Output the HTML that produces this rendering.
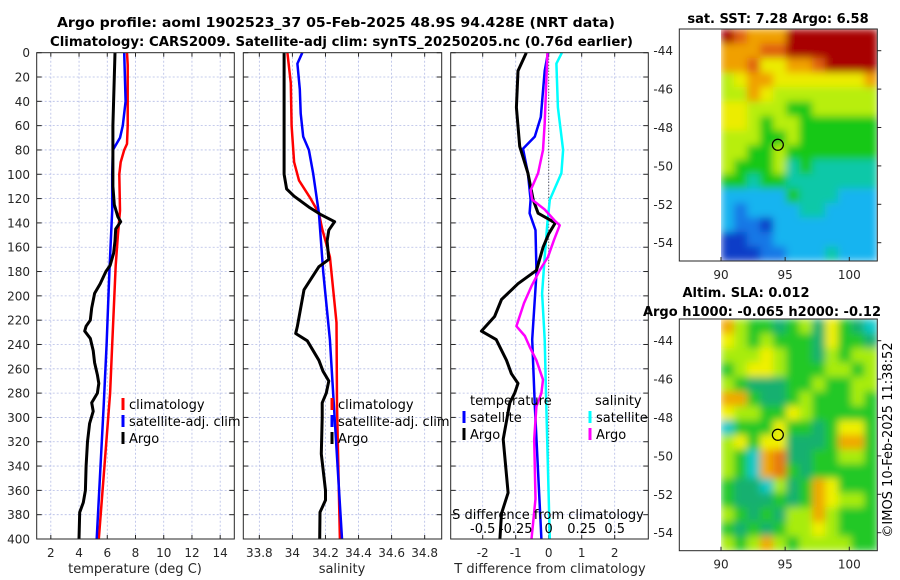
<!DOCTYPE html>
<html><head><meta charset="utf-8"><style>
html,body{margin:0;padding:0;background:#fff;}
svg{display:block;font-family:"DejaVu Sans","Liberation Sans",sans-serif;}
</style></head><body>
<svg id="fig" width="900" height="580" viewBox="0 0 900 580" xmlns="http://www.w3.org/2000/svg">
<defs>
<filter id="smooth" x="0" y="0" width="1" height="1"><feGaussianBlur stdDeviation="4" edgeMode="duplicate"/></filter>
<clipPath id="clipTop"><rect x="721" y="29" width="156.3" height="232"/></clipPath>
<clipPath id="clipBot"><rect x="721" y="319" width="156.3" height="231.7"/></clipPath>
</defs>
<text x="336" y="27" font-size="13" font-weight="bold" text-anchor="middle" textLength="558" lengthAdjust="spacingAndGlyphs" fill="#000">Argo profile: aoml 1902523_37 05-Feb-2025 48.9S 94.428E (NRT data)</text>
<text x="341.5" y="46" font-size="13" font-weight="bold" text-anchor="middle" textLength="583" lengthAdjust="spacingAndGlyphs" fill="#000">Climatology: CARS2009. Satellite-adj clim: synTS_20250205.nc (0.76d earlier)</text>
<g id="panels"></g>
<g id="maps"></g>
</svg>
<script>
// ---------------- data ----------------
const depthLevels = [0,20,40,60,80,100,120,140,160,180,200,220,240,260,280,300,320,340,360,380,400];
// Panel 1 temperature
const argoTDepth = [0,20,40,60,80,100,110,125,135,139,145,155,165,175,180,190,198,210,220,225,229,235,245,255,265,272,280,288,295,305,320,340,360,370,378,400];
const argoT = [6.55,6.5,6.45,6.4,6.4,6.4,6.4,6.5,6.75,6.95,6.6,6.55,6.45,6.2,5.9,5.5,5.1,4.9,4.8,4.5,4.4,4.8,5.0,5.1,5.3,5.4,5.3,4.9,5.0,4.75,4.6,4.5,4.45,4.3,4.05,4.0];
const climTDepth = [0,10,40,60,75,80,90,100,130,150,175,240,280,400];
const climT = [7.4,7.45,7.45,7.45,7.4,7.2,6.95,6.85,6.9,6.75,6.6,6.35,6.2,5.4];
const satTDepth = [0,40,60,70,80,100,130,180,240,290,400];
const satT = [7.2,7.3,7.1,6.9,6.4,6.35,6.35,6.15,5.95,5.75,5.25];
// Panel 2 salinity
const argoSDepth = [0,100,112,118,127,133,139,146,155,170,176,195,210,225,231,237,253,262,270,280,288,300,330,360,368,378,400];
const argoS = [33.95,33.95,33.965,34.01,34.1,34.17,34.255,34.22,34.21,34.22,34.16,34.07,34.05,34.03,34.02,34.09,34.16,34.185,34.22,34.205,34.18,34.18,34.175,34.2,34.2,34.167,34.165];
const climSDepth = [0,25,60,90,105,120,132,145,168,222,290,400];
const climS = [33.97,33.99,33.995,34.01,34.04,34.11,34.16,34.18,34.227,34.267,34.27,34.287];
const satSDepth = [0,9,30,50,69,80,99,132,181,236,400];
const satS = [34.06,34.03,34.045,34.05,34.065,34.1,34.125,34.16,34.187,34.227,34.3];
// Panel 3 differences
const dArgoTDepth = [0,15,45,77,99,121,132,140,149,160,179,190,203,217,229,236,253,264,272,280,288,318,362,379,400];
const dArgoT = [-0.68,-0.93,-0.98,-0.88,-0.63,-0.47,-0.32,0.2,0.0,-0.17,-0.37,-0.93,-1.43,-1.64,-2.04,-1.59,-1.28,-1.13,-0.93,-1.03,-1.18,-1.38,-1.23,-1.43,-1.48];
const dSatTDepth = [0,15,53,69,79,99,121,132,146,181,236,290,400];
const dSatT = [-0.02,-0.12,-0.24,-0.42,-0.78,-0.63,-0.55,-0.58,-0.40,-0.37,-0.5,-0.42,-0.22];
const dSatSDepth = [0,9,45,80,99,121,140,168,198,236,290,400];
const dSatS = [0.10,0.058,0.07,0.109,0.096,0.008,-0.01,-0.03,-0.05,-0.03,-0.018,0.008];
const dArgoSDepth = [0,58,80,99,113,121,129,138,142,154,168,179,192,206,225,233,242,253,269,280,291,318,367,400];
const dArgoS = [-0.01,-0.03,-0.043,-0.08,-0.136,-0.125,-0.03,0.045,0.083,0.04,-0.005,-0.068,-0.13,-0.187,-0.245,-0.18,-0.144,-0.093,-0.043,-0.055,-0.093,-0.11,-0.1,-0.13];
// tick labels
const tempTicks = [2,4,6,8,10,12,14];
const salTicks = [33.8,34,34.2,34.4,34.6,34.8];
const salTickLabels = ["33.8","34","34.2","34.4","34.6","34.8"];
const dTTicks = [-2,-1,0,1,2];
const dSTicks = [-0.5,-0.25,0,0.25,0.5];
const dSTickLabels = ["-0.5","-0.25","0","0.25","0.5"];
const lonTicks = [90,95,100];
const latTicks = [-44,-46,-48,-50,-52,-54];
// maps (colour class per cell, rows north->south)
const sstGrid = ["987779999999","777889999999","778667789999","567766666667","557655555555","665554455555","665455444444","555445444444","554454444444","544453433333","443443333333","222224333222","212222332222","211022222222","001122222222","000112223222"];
const slaGrid = ["532212314210","432322214221","333432213233","234432223323","321112232233","552112322232","433224322222","022242212442","342441112552","320561122332","320562122222","211031254222","211121254332","321213353222","212123343222","323532333322"];
const argoLon = 94.43, argoLat = -48.9;

// ---------------- helpers ----------------
const NS = "http://www.w3.org/2000/svg";
function mk(tag, attrs, parent){ const e=document.createElementNS(NS,tag); for(const k in attrs) e.setAttribute(k,attrs[k]); parent.appendChild(e); return e; }
const Y0=52.7, Y1=539;
function yD(d){ return Y0 + d*(Y1-Y0)/400; }
function lin(d0,d1,r0,r1){ return v => r0 + (v-d0)*(r1-r0)/(d1-d0); }
const panelsG = document.getElementById('panels');
const mapsG = document.getElementById('maps');

function drawPanel(name, x0, x1, xs, ticks, labels){
  const g = mk('g',{},panelsG);
  
  
  mk('rect',{x:x0,y:Y0,width:x1-x0,height:Y1-Y0,fill:'#fff'},g);
  ticks.forEach((t,i)=>{
    const x = xs(t);
    const gl = mk('line',{x1:x,x2:x,y1:Y0,y2:Y1,stroke:'#b4bce6','stroke-width':0.8,'stroke-dasharray':'2,2'},g);
    
    
    mk('line',{x1:x,x2:x,y1:Y1,y2:Y1-4,stroke:'#262626','stroke-width':1},g);
    mk('line',{x1:x,x2:x,y1:Y0,y2:Y0+4,stroke:'#262626','stroke-width':1},g);
    const tl = mk('text',{x:x,y:557,'font-size':12,'text-anchor':'middle',fill:'#262626'},g);
    tl.textContent = labels[i];
    
    
  });
  depthLevels.forEach(d=>{
    const y = yD(d);
    if(d>0 && d<400){
      const gl = mk('line',{x1:x0,x2:x1,y1:y,y2:y,stroke:'#b4bce6','stroke-width':0.8,'stroke-dasharray':'2,2'},g);
      
      
    }
    mk('line',{x1:x0,x2:x0+5,y1:y,y2:y,stroke:'#262626','stroke-width':1},g);
    mk('line',{x1:x1,x2:x1-5,y1:y,y2:y,stroke:'#262626','stroke-width':1},g);
  });
  return g;
}
function drawLine(g, name, xs, depths, vals, color, w){
  const pts = depths.map((d,i)=> xs(vals[i]).toFixed(1)+','+yD(d).toFixed(1)).join(' ');
  const pl = mk('polyline',{points:pts,fill:'none',stroke:color,'stroke-width':w,'stroke-linejoin':'round'},g);
  
  
}
function frame(g,x0,x1){ mk('rect',{x:x0,y:Y0,width:x1-x0,height:Y1-Y0,fill:'none',stroke:'#262626','stroke-width':1},g); }
function legendItem(g, name, x, y, color, label){
  const it = mk('g',{},g);
  
  
  mk('rect',{x:x-1.5,y:y-11,width:3,height:12,fill:color},it);
  const t = mk('text',{x:x+6,y:y,'font-size':13,fill:'#000'},it);
  t.textContent = label;
}
function axisTitle(g,name,x,label){
  const t = mk('text',{x:x,y:573,'font-size':13,'text-anchor':'middle',fill:'#262626'},g);
  t.textContent = label;
  
  
}

// ---------------- panel 1 ----------------
const xT = lin(1,15,36.7,234.3);
const p1 = drawPanel('temperature-panel',36.7,234.3,xT,tempTicks,tempTicks.map(String));
depthLevels.forEach(d=>{
  const t = mk('text',{x:30,y:yD(d)+4.5,'font-size':12,'text-anchor':'end',fill:'#262626'},p1);
  t.textContent = String(d);
  
  
});
drawLine(p1,'climatology-temperature-line',xT,climTDepth,climT,'#ff0000',2.5);
drawLine(p1,'satellite-temperature-line',xT,satTDepth,satT,'#0000ff',2.5);
drawLine(p1,'argo-temperature-line',xT,argoTDepth,argoT,'#000',3);
frame(p1,36.7,234.3);
axisTitle(p1,'temperature-axis-title',135,'temperature (deg C)');
legendItem(p1,'legend-climatology',123,409,'#ff0000','climatology');
legendItem(p1,'legend-satellite-adj-clim',123,426,'#0000ff','satellite-adj. clim');
legendItem(p1,'legend-argo',123,443,'#000','Argo');

// ---------------- panel 2 ----------------
const xS = lin(33.703,34.903,243.3,441.7);
const p2 = drawPanel('salinity-panel',243.3,441.7,xS,salTicks,salTickLabels);
drawLine(p2,'climatology-salinity-line',xS,climSDepth,climS,'#ff0000',2.5);
drawLine(p2,'satellite-salinity-line',xS,satSDepth,satS,'#0000ff',2.5);
drawLine(p2,'argo-salinity-line',xS,argoSDepth,argoS,'#000',3);
frame(p2,243.3,441.7);
axisTitle(p2,'salinity-axis-title',342,'salinity');
legendItem(p2,'legend-climatology-2',332,409,'#ff0000','climatology');
legendItem(p2,'legend-satellite-adj-clim-2',332,426,'#0000ff','satellite-adj. clim');
legendItem(p2,'legend-argo-2',332,443,'#000','Argo');

// ---------------- panel 3 ----------------
const xD = lin(0,1,548.7,581.7);
const xDS = v => xD(v*4);
const p3 = drawPanel('difference-panel',450.7,648.3,xD,dTTicks,dTTicks.map(String));
mk('line',{x1:xD(0),x2:xD(0),y1:Y0,y2:Y1,stroke:'#333','stroke-width':1,'stroke-dasharray':'1,2'},p3);
drawLine(p3,'satellite-salinity-diff-line',xDS,dSatSDepth,dSatS,'#00ffff',2.5);
drawLine(p3,'satellite-temperature-diff-line',xD,dSatTDepth,dSatT,'#0000ff',2.5);
drawLine(p3,'argo-temperature-diff-line',xD,dArgoTDepth,dArgoT,'#000',3);
drawLine(p3,'argo-salinity-diff-line',xDS,dArgoSDepth,dArgoS,'#ff00ff',2.5);
frame(p3,450.7,648.3);
axisTitle(p3,'t-difference-axis-title',550,'T difference from climatology');
{
  const t = mk('text',{x:470,y:405,'font-size':13,fill:'#000'},p3); t.textContent='temperature';
  
  
  const s = mk('text',{x:595,y:405,'font-size':13,fill:'#000'},p3); s.textContent='salinity';
  
  
}
legendItem(p3,'legend-temp-satellite',464,422,'#0000ff','satellite');
legendItem(p3,'legend-temp-argo',464,439,'#000','Argo');
legendItem(p3,'legend-sal-satellite',590,422,'#00ffff','satellite');
legendItem(p3,'legend-sal-argo',590,439,'#ff00ff','Argo');
{
  const t = mk('text',{x:548,y:519,'font-size':13,'text-anchor':'middle',fill:'#000'},p3);
  t.textContent='S difference from climatology';
  
  
  dSTicks.forEach((v,i)=>{
    const l = mk('text',{x:xDS(v),y:533,'font-size':13,'text-anchor':'middle',fill:'#000'},p3);
    l.textContent = dSTickLabels[i];
    
    
  });
}

// ---------------- maps ----------------
const sstColors = ['#0a3cc8','#1478e6','#18b4f0','#10c8a8','#18c818','#b8ee10','#ecec00','#f0a000','#e06010','#a80000'];
const slaColors = ['#10c8c8','#18b070','#20c828','#a8ec10','#f0f000','#f0a800','#e87810'];
function drawMap(name, grid, colors, top, bottom, latTop, latBottom, clipId, title1, title2){
  const g = mk('g',{},mapsG);
  
  
  const L=679.3, R=877.3;
  const lonX = lin(90,100,721,849.3);
  const latY = lin(-44,-54,latTop,latBottom);
  mk('rect',{x:L,y:top,width:R-L,height:bottom-top,fill:'#fff'},g);
  const clipG = mk('g',{'clip-path':'url(#'+clipId+')'},g);
  const cellsG = mk('g',{filter:'url(#smooth)'},clipG);
  const cols = grid[0].length, rows = grid.length;
  const cw = (R-721)/cols, ch = (bottom-top)/rows;
  grid.forEach((row,r)=>{
    for(let c=0;c<cols;c++){
      const cell = mk('rect',{x:(721+c*cw).toFixed(2),y:(top+r*ch).toFixed(2),width:(cw+0.6).toFixed(2),height:(ch+0.6).toFixed(2),fill:colors[+row[c]]},cellsG);
      
      
    }
  });
  const circ = mk('circle',{cx:lonX(argoLon),cy:latY(argoLat),r:5.5,fill:'none',stroke:'#000','stroke-width':1.2},g);
  
  
  mk('rect',{x:L,y:top,width:R-L,height:bottom-top,fill:'none',stroke:'#262626','stroke-width':1},g);
  latTicks.forEach(v=>{
    const y = latY(v);
    mk('line',{x1:R,x2:R+4,y1:y,y2:y,stroke:'#262626'},g);
    const t = mk('text',{x:673,y:y+4.5,'font-size':12,'text-anchor':'end',fill:'#262626'},g);
    t.textContent = String(v);
    
    
  });
  lonTicks.forEach(v=>{
    const x = lonX(v);
    mk('line',{x1:x,x2:x,y1:bottom,y2:bottom-4,stroke:'#262626'},g);
    const t = mk('text',{x:x,y:bottom+18,'font-size':12,'text-anchor':'middle',fill:'#262626'},g);
    t.textContent = String(v);
    
    
  });
  title1 && (()=>{ const t=mk('text',{x:title1[1],y:title1[2],'font-size':13,'font-weight':'bold','text-anchor':'middle',fill:'#000'},g); t.textContent=title1[0];
    
     })();
  title2 && (()=>{ const t=mk('text',{x:title2[1],y:title2[2],'font-size':13,'font-weight':'bold','text-anchor':'middle',fill:'#000'},g); t.textContent=title2[0];
    
     })();
}
drawMap('sst-map',sstGrid,sstColors,29,261,50.7,242.7,'clipTop',['sat. SST: 7.28 Argo: 6.58',778,23],null);
drawMap('sla-map',slaGrid,slaColors,319,550.7,340.7,532.7,'clipBot',['Altim. SLA: 0.012',746,297],['Argo h1000: -0.065 h2000: -0.12',762,316]);
{
  const t = mk('text',{x:0,y:0,'font-size':13,'text-anchor':'middle',fill:'#000',transform:'translate(892,440) rotate(-90)'},mapsG);
  t.textContent = '©IMOS 10-Feb-2025 11:38:52';
  
  
}
</script>
</body></html>
